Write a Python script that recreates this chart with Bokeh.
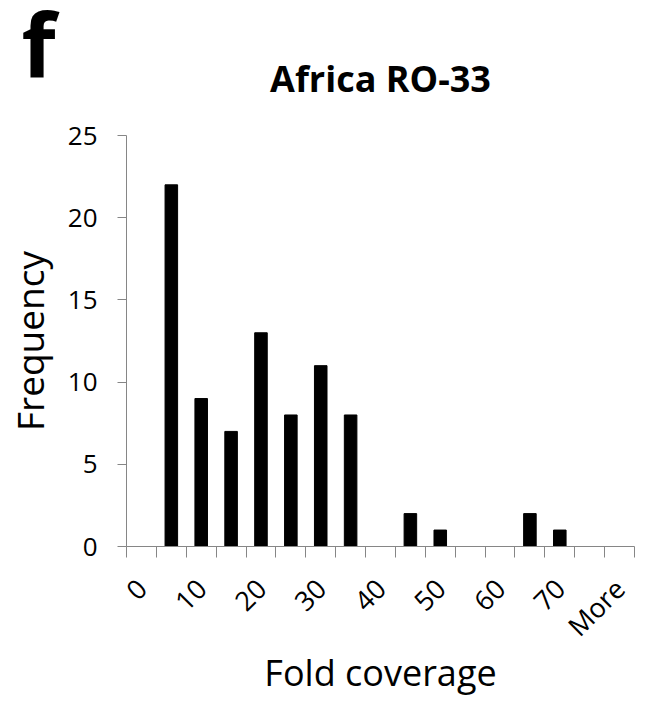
import math
from bokeh.plotting import figure
from bokeh.models import Range1d, FixedTicker, Title, LinearAxis, ColumnDataSource
from bokeh.embed import file_html
from bokeh.resources import INLINE

# Data (histogram bins and frequencies)
bins = ["0", "5", "10", "15", "20", "25", "30", "35", "40", "45", "50", "55", "60", "65", "70", "75", "More"]
freq = [0, 22, 9, 7, 13, 8, 11, 8, 0, 2, 1, 0, 0, 2, 1, 0, 0]
y_ticks = [0, 5, 10, 15, 20, 25]
y_max = 25
title_text = "Africa RO-33"
panel_letter = "f"
x_title = "Fold coverage"
y_title = "Frequency"

FONT = "Open Sans"
AXIS_GRAY = "#868686"

n = len(bins)
xpos = [i + 0.5 for i in range(n)]
src = ColumnDataSource(dict(x=xpos, top=freq, label=bins))

p = figure(width=648, height=699, output_backend="svg", toolbar_location=None, title=None,
           x_range=Range1d(0, n), y_range=Range1d(0, y_max),
           min_border_left=119, min_border_right=14, min_border_top=135, min_border_bottom=149)

p.vbar(x="x", top="top", width=0.42, source=src, color="black")

p.grid.visible = False
p.outline_line_color = None
p.background_fill_color = "white"
p.border_fill_color = "white"

# keep references to the main axes before adding the extra one
xa = p.below[0]
ya = p.left[0]

# Chart title: label of an empty axis above the frame (centred on the plot area)
top_ax = LinearAxis(ticker=FixedTicker(ticks=[], minor_ticks=[]), axis_label=title_text)
top_ax.axis_line_color = None
top_ax.major_tick_line_color = None
top_ax.minor_tick_line_color = None
top_ax.major_tick_out = 0
top_ax.minor_tick_out = 0
top_ax.major_label_standoff = 0
top_ax.axis_label_standoff = 33
top_ax.axis_label_text_font = FONT
top_ax.axis_label_text_font_size = "36px"
top_ax.axis_label_text_font_style = "bold"
top_ax.axis_label_text_color = "black"
p.add_layout(top_ax, "above")

# Panel letter at the top left
p.add_layout(Title(text=panel_letter, align="left", offset=-105, standoff=-105,
                   text_font=FONT, text_font_size="88px", text_font_style="bold",
                   text_color="black"), "above")

# X axis: labels every other bin at bin centres, ticks at bin edges
label_pos = [xpos[i] for i in range(0, n, 2)]
xa.ticker = FixedTicker(ticks=label_pos, minor_ticks=list(range(n + 1)))
xa.major_label_overrides = {xpos[i]: bins[i] for i in range(0, n, 2)}
xa.major_label_orientation = math.pi / 4
xa.major_tick_line_color = None
xa.major_tick_out = 0
xa.major_tick_in = 0
xa.minor_tick_line_color = AXIS_GRAY
xa.minor_tick_out = 11
xa.minor_tick_in = 0
xa.axis_line_color = AXIS_GRAY
xa.major_label_text_font = FONT
xa.major_label_text_font_size = "27px"
xa.major_label_text_color = "black"
xa.major_label_standoff = 26
xa.axis_label = x_title
xa.axis_label_text_font = FONT
xa.axis_label_text_font_size = "36px"
xa.axis_label_text_font_style = "normal"
xa.axis_label_text_color = "black"
xa.axis_label_standoff = -12

# Y axis
ya.ticker = FixedTicker(ticks=y_ticks, minor_ticks=[])
ya.axis_line_color = AXIS_GRAY
ya.major_tick_line_color = AXIS_GRAY
ya.major_tick_out = 9
ya.major_tick_in = 0
ya.minor_tick_line_color = None
ya.major_label_text_font = FONT
ya.major_label_text_font_size = "26px"
ya.major_label_text_color = "black"
ya.major_label_standoff = 20
ya.axis_label = y_title
ya.axis_label_text_font = FONT
ya.axis_label_text_font_size = "37px"
ya.axis_label_text_font_style = "normal"
ya.axis_label_text_color = "black"
ya.axis_label_standoff = 10

open("out.html", "w").write(file_html(p, INLINE))
